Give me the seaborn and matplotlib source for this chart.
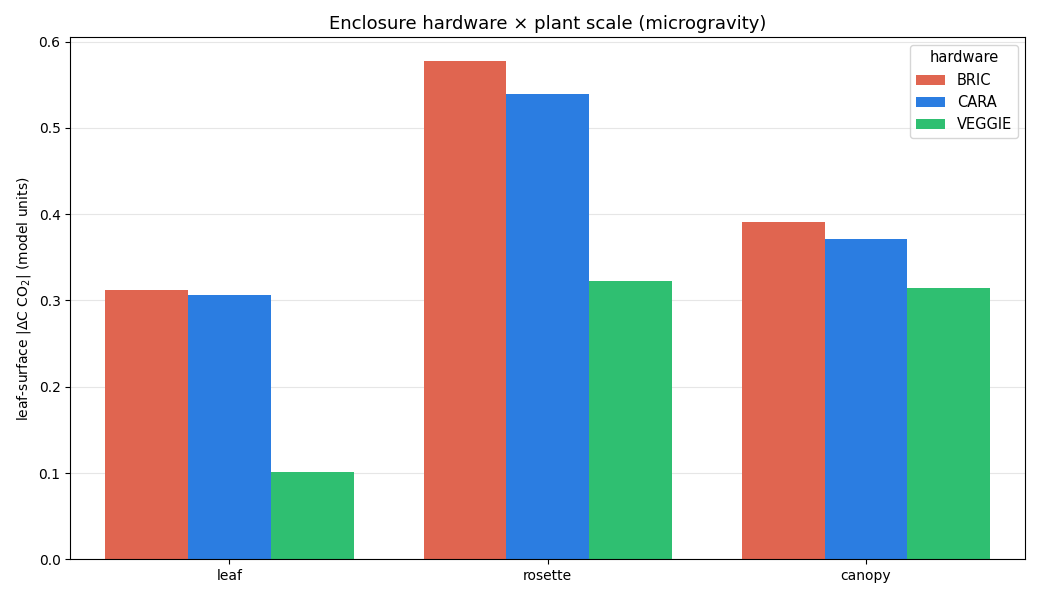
import matplotlib
matplotlib.use("Agg")
import matplotlib.pyplot as plt
import seaborn as sns
import pandas as pd

scales = ["leaf", "rosette", "canopy"]
hardware = ["BRIC", "CARA", "VEGGIE"]
bric = [0.312, 0.578, 0.391]
cara = [0.306, 0.539, 0.371]
veggie = [0.101, 0.323, 0.315]
colors = ["#E06550", "#2B7DE1", "#2FBF71"]

rows = []
for name, vals in zip(hardware, [bric, cara, veggie]):
    for s, v in zip(scales, vals):
        rows.append({"scale": s, "hardware": name, "value": v})
df = pd.DataFrame(rows)

fig, ax = plt.subplots(figsize=(10.4, 5.98), dpi=100)
sns.barplot(data=df, x="scale", y="value", hue="hardware", order=scales,
            hue_order=hardware, palette=colors, saturation=1, width=0.78, ax=ax)
ax.set_axisbelow(True)
ax.yaxis.grid(True, color="#e6e6e6", linewidth=0.8)
ax.set_xlabel("")
ax.set_ylabel(r"leaf-surface |$\Delta$C CO$_2$| (model units)")
ax.set_title("Enclosure hardware × plant scale (microgravity)", fontsize=13)
ax.set_ylim(0, 0.605)
ax.legend(title="hardware", loc="upper right", fontsize=10.5, title_fontsize=10.5)
fig.tight_layout()
fig.savefig("out.png", dpi=100)
